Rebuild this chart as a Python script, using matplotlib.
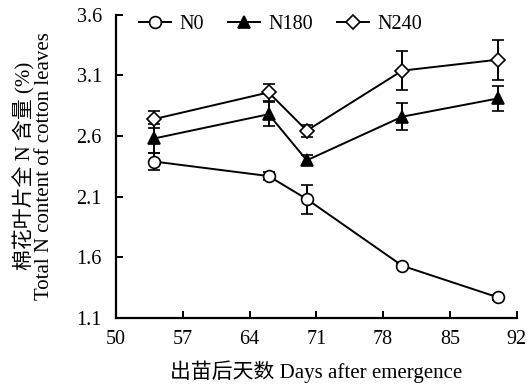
import matplotlib
matplotlib.use("Agg")
import matplotlib.pyplot as plt

plt.rcParams['font.family'] = ['Liberation Serif', 'Noto Sans CJK SC']
plt.rcParams['mathtext.fontset'] = 'stix'

days = [54, 66, 70, 80, 90]
n0 = [2.39, 2.27, 2.08, 1.53, 1.27]
n0_err = [0.07, 0.03, 0.12, 0.02, 0.02]
n180 = [2.58, 2.78, 2.40, 2.76, 2.91]
n180_err = [0.12, 0.10, 0.04, 0.11, 0.10]
n240 = [2.74, 2.96, 2.645, 3.14, 3.23]
n240_err = [0.07, 0.07, 0.05, 0.16, 0.165]

x_ticks = [50, 57, 64, 71, 78, 85, 92]
y_ticks = [1.1, 1.6, 2.1, 2.6, 3.1, 3.6]

fig = plt.figure(figsize=(5.29, 3.91), dpi=100)
ax = fig.add_axes([0.219, 0.187, 0.758, 0.775])

common = dict(color='black', lw=1.4, elinewidth=1.4, capsize=4, capthick=1.4,
              markersize=8.5, markeredgewidth=1.2)
ax.errorbar(days, n0, yerr=n0_err, marker='o', mfc='white', mec='black',
            label='N0', zorder=3, **common)
ax.errorbar(days, n180, yerr=n180_err, marker='^', mfc='black', mec='black',
            label='N180', zorder=3, **common)
ax.errorbar(days, n240, yerr=n240_err, marker='D', mfc='white', mec='black',
            label='N240', zorder=3, **{**common, 'markersize': 7})

ax.set_xlim(50, 92)
ax.set_ylim(1.1, 3.6)
ax.set_xticks(x_ticks)
ax.set_yticks(y_ticks)
ax.set_yticklabels([f"{v:.1f}" for v in y_ticks])
ax.tick_params(direction='in', length=5, width=1.4, labelsize=14.5)
ax.tick_params(axis='y', pad=10)
ax.tick_params(axis='x', pad=9)
for s in ['top', 'right']:
    ax.spines[s].set_visible(False)
for s in ['left', 'bottom']:
    ax.spines[s].set_linewidth(1.6)

ax.set_xlabel('出苗后天数 Days after emergence', fontsize=15, labelpad=8)
ax.set_ylabel('棉花叶片全 N 含量 (%)\nTotal N content of cotton leaves',
              fontsize=15, labelpad=16, linespacing=1.0)

handles, labels = ax.get_legend_handles_labels()
handles = [h[0] for h in handles]
ax.legend(handles, labels, ncol=3, frameon=False, loc='upper center',
          bbox_to_anchor=(0.41, 1.06), fontsize=14.5, handlelength=1.6,
          columnspacing=1.2, handletextpad=0.4)

fig.savefig('out.png', dpi=100)
